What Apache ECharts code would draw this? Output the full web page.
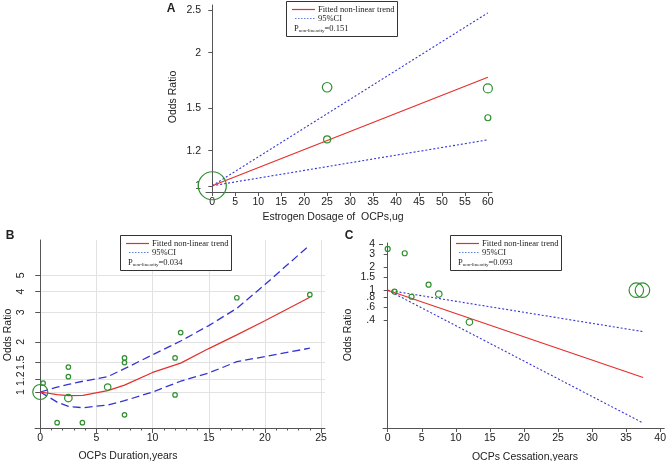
<!DOCTYPE html>
<html><head><meta charset="utf-8">
<script src="https://cdn.jsdelivr.net/npm/echarts@6/dist/echarts.min.js"></script>
<style>html,body{margin:0;padding:0;background:#fff}#c{width:669px;height:461px}</style>
</head><body><div id="c"></div>
<script>
// ---------- Panel A: Estrogen dosage ----------
const aFitX = [0, 60];
const aFit = [1, 1.76];
const aUpper = [1, 2.46];
const aLower = [1, 1.27];
const aPtX = [0, 25, 25, 60, 60];
const aPtY = [1, 1.67, 1.273, 1.66, 1.425];
const aPtW = [28, 9.5, 7, 9, 6];
const aXTicks = [0,5,10,15,20,25,30,35,40,45,50,55,60];
const aYTicks = [1, 1.2, 1.5, 2, 2.5];

// ---------- Panel B: Duration ----------
const bFitX = [0, 1.5, 2.5, 3.8, 6, 7.5, 10, 12.5, 15, 17.5, 20, 24];
const bFit = [1, 0.965, 0.95, 0.955, 1.02, 1.10, 1.31, 1.49, 1.82, 2.2, 2.67, 3.7];
const bUpper = [1, 1.07, 1.11, 1.16, 1.235, 1.38, 1.67, 2.02, 2.5, 3.17, 4.4, 7.6];
const bLower = [1, 0.87, 0.82, 0.805, 0.836, 0.887, 1.0, 1.16, 1.30, 1.52, 1.63, 1.83];
const bPtX = [0, 0.25, 1.5, 2.5, 2.5, 2.5, 3.75, 6, 7.5, 7.5, 7.5, 12, 12, 12.5, 17.5, 24];
const bPtY = [1, 1.13, 0.655, 1.41, 1.235, 0.92, 0.655, 1.07, 1.6, 1.5, 0.73, 1.6, 0.96, 2.27, 3.67, 3.83];
const bPtW = [15, 4.5, 4.5, 4.5, 4.5, 7.5, 4.5, 6.5, 4.5, 4.5, 4.5, 4.5, 4.5, 4.5, 4.5, 4.5];
const bXTicks = [0, 5, 10, 15, 20, 25];
const bXMinor = [0,1,2,3,4,5,6,7,8,9,10,11,12,13,14,15,16,17,18,19,20,21,22,23,24,25];
const bYTicks = [1, 1.2, 1.5, 2, 3, 4, 5];

// ---------- Panel C: Cessation ----------
const cFitX = [0, 37.5];
const cFit = [1, 0.0708];
const cUpper = [1, 0.285];
const cLower = [1, 0.0178];
const cPtX = [0, 2.5, 1, 3.5, 6, 7.5, 12, 36.5, 37.4];
const cPtY = [3.5, 3.07, 0.96, 0.82, 1.185, 0.89, 0.38, 1.0, 1.0];
const cPtW = [5, 5, 5, 5, 5, 6.5, 6.5, 14.5, 14.5];
const cXTicks = [0, 5, 10, 15, 20, 25, 30, 35, 40];
const cYTicks = [0.4, 0.6, 0.8, 1, 1.5, 2, 3, 4];

const legendP = ['0.151', '0.034', '0.093'];

const RED = '#e3302c', BLUE = '#3434d4', GREEN = '#2f8f2f', TXT = '#222', AX = '#555';
const SANS = '"Liberation Sans", Arial, sans-serif';
const SERIF = '"Liberation Serif", "Times New Roman", serif';

const zip = (xs, ys) => xs.map((x, i) => [x, ys[i]]);
const fmt = v => { let s = String(+v.toFixed(2)); return s.startsWith('0.') ? s.slice(1) : s; };

function xAxisCfg(gi, min, max, ticks, extra) {
  return Object.assign({
    type: 'value', gridIndex: gi, min, max, position: 'bottom',
    axisLine: { show: true, lineStyle: { color: AX, width: 1 } },
    axisTick: { show: true, length: 4, customValues: ticks, lineStyle: { color: AX } },
    axisLabel: { customValues: ticks, margin: 5, color: TXT, fontFamily: SANS, fontSize: 10.5, hideOverlap: false, showMinLabel: true, showMaxLabel: true },
    splitLine: { show: false }
  }, extra || {});
}
function yAxisCfg(gi, min, max, ticks, extra) {
  return Object.assign({
    type: 'log', logBase: Math.E, gridIndex: gi, min, max, position: 'left',
    axisLine: { show: true, lineStyle: { color: AX, width: 1 } },
    axisTick: { show: true, length: 4, customValues: ticks, lineStyle: { color: AX } },
    axisLabel: { customValues: ticks, margin: 5, color: TXT, fontFamily: SANS, fontSize: 10.5, formatter: fmt, hideOverlap: false, showMinLabel: true, showMaxLabel: true },
    splitLine: { show: false }
  }, extra || {});
}

function lineS(ax, xs, ys, color, dash, w) {
  return { type: 'line', xAxisIndex: ax, yAxisIndex: ax, data: zip(xs, ys), symbol: 'none',
    lineStyle: { color, width: w || 1.2, type: dash || 'solid' }, z: 3, silent: true, animation: false };
}
function ptsS(ax, xs, ys, ws) {
  return { type: 'scatter', xAxisIndex: ax, yAxisIndex: ax, data: zip(xs, ys).map((d, i) => ({ value: d, symbolSize: ws[i] })),
    symbol: 'circle', itemStyle: { color: 'rgba(0,0,0,0)', borderColor: GREEN, borderWidth: 1.2, opacity: 1 }, z: 4, silent: true, animation: false };
}

function legendBox(L, T, p) {
  return [
    { type: 'rect', z: 100, shape: { x: L + 0.5, y: T + 0.5, width: 111, height: 35 }, style: { fill: '#fff', stroke: '#333', lineWidth: 1 } },
    { type: 'line', z: 101, shape: { x1: L + 6, y1: T + 8.5, x2: L + 29, y2: T + 8.5 }, style: { stroke: RED, lineWidth: 1.2 } },
    { type: 'text', z: 101, x: L + 32, y: T + 8.5, style: { text: 'Fitted non-linear trend', font: '8.5px ' + SERIF, fill: TXT, textVerticalAlign: 'middle' } },
    { type: 'line', z: 101, shape: { x1: L + 9, y1: T + 17.5, x2: L + 29, y2: T + 17.5 }, style: { stroke: '#5a7fd8', lineWidth: 1, lineDash: [1.5, 1.5] } },
    { type: 'text', z: 101, x: L + 32, y: T + 17.5, style: { text: '95%CI', font: '8.5px ' + SERIF, fill: TXT, textVerticalAlign: 'middle' } },
    { type: 'text', z: 101, x: L + 8, y: T + 28, style: {
      text: '{p|P}{s|non-linearity}{p|=' + p + '}', textVerticalAlign: 'middle', fill: TXT,
      rich: { p: { fontFamily: SERIF, fontSize: 8.5, fill: TXT, verticalAlign: 'middle' },
              s: { fontFamily: SERIF, fontSize: 5, fill: TXT, verticalAlign: 'bottom', padding: [3, 0, 0, 0] } } } }
  ];
}
function txt(x, y, t, opts) {
  return Object.assign({ type: 'text', z: 50, x, y, style: Object.assign({ text: t, font: '10.5px ' + SANS, fill: TXT, textAlign: 'center', textVerticalAlign: 'middle' }, (opts && opts.style) || {}) }, (opts && opts.el) || {});
}

const cYMain = cYTicks.slice(0, cYTicks.length - 1);
const cYTop = cYTicks.slice(cYTicks.length - 1);

const option = {
  animation: false,
  backgroundColor: '#fff',
  grid: [
    { left: 206, top: 5, width: 286, height: 187 },
    { left: 35, top: 240, width: 290, height: 188 },
    { left: 383, top: 243, width: 282, height: 185 }
  ],
  xAxis: [
    xAxisCfg(0, -1.37, 60.9, aXTicks),
    xAxisCfg(1, -0.47, 25.35, bXTicks, {
      axisTick: { show: true, length: 5, customValues: bXTicks, lineStyle: { color: AX } },
      splitLine: { show: true, lineStyle: { color: '#e2e2e2', width: 1 } } }),
    xAxisCfg(2, -0.69, 40.6, cXTicks),
    // minor ticks for panel B
    { type: 'value', gridIndex: 1, min: -0.47, max: 25.35, position: 'bottom',
      axisLine: { show: false }, axisLabel: { show: false }, splitLine: { show: false },
      axisTick: { show: true, length: 2.5, customValues: bXMinor, lineStyle: { color: AX } } }
  ],
  yAxis: [
    yAxisCfg(0, 0.968, 2.563, aYTicks, {}),
    yAxisCfg(1, 0.6086, 8.14, bYTicks, {
      axisTick: { show: true, length: 5, customValues: bYTicks, lineStyle: { color: AX } },
      axisLabel: { customValues: bYTicks, rotate: 90, margin: 8, color: TXT, fontFamily: SANS, fontSize: 10.5, formatter: fmt, hideOverlap: false, showMinLabel: true, showMaxLabel: true },
      splitLine: { show: true, lineStyle: { color: '#e2e2e2', width: 1 } } }),
    yAxisCfg(2, 0.0153, 4.19, cYMain, {
      axisLabel: { customValues: cYMain, margin: 8, color: TXT, fontFamily: SANS, fontSize: 10.5, formatter: fmt, hideOverlap: false, showMinLabel: true, showMaxLabel: true } }),
    // top label of panel C on its own axis (avoids overlap-hiding)
    yAxisCfg(2, 0.0153, 4.19, cYTop, {
      axisLine: { show: false },
      axisLabel: { customValues: cYTop, margin: 8, color: TXT, fontFamily: SANS, fontSize: 10.5, formatter: fmt, showMinLabel: true, showMaxLabel: true } })
  ],
  series: [
    lineS(0, aFitX, aUpper, BLUE, [2, 2], 1.1),
    lineS(0, aFitX, aLower, BLUE, [2, 2], 1.1),
    lineS(0, aFitX, aFit, RED, 'solid', 1.2),
    ptsS(0, aPtX, aPtY, aPtW),

    lineS(1, bFitX, bUpper, BLUE, [8, 4], 1.3),
    lineS(1, bFitX, bLower, BLUE, [8, 4], 1.3),
    lineS(1, bFitX, bFit, RED, 'solid', 1.2),
    ptsS(1, bPtX, bPtY, bPtW),

    lineS(2, cFitX, cUpper, BLUE, [2, 2], 1.1),
    lineS(2, cFitX, cLower, BLUE, [2, 2], 1.1),
    lineS(2, cFitX, cFit, RED, 'solid', 1.2),
    ptsS(2, cPtX, cPtY, cPtW)
  ],
  graphic: [].concat(
    legendBox(286, 1, legendP[0]),
    legendBox(120, 235, legendP[1]),
    legendBox(450, 235, legendP[2]),
    [
      txt(171, 9, 'A', { style: { font: 'bold 12px ' + SANS } }),
      txt(10, 236, 'B', { style: { font: 'bold 12px ' + SANS } }),
      txt(349, 236, 'C', { style: { font: 'bold 12px ' + SANS } }),
      txt(333, 217, 'Estrogen Dosage of  OCPs,ug'),
      txt(128, 456, 'OCPs Duration,years'),
      txt(525, 457, 'OCPs Cessation,years'),
      txt(173, 97, 'Odds Ratio', { el: { rotation: Math.PI / 2 } }),
      txt(8, 335, 'Odds Ratio', { el: { rotation: Math.PI / 2 } }),
      txt(348, 335, 'Odds Ratio', { el: { rotation: Math.PI / 2 } })
    ]
  )
};
const chart = echarts.init(document.getElementById('c'), null, { renderer: 'canvas' });
chart.setOption(option);
</script>
</body></html>
